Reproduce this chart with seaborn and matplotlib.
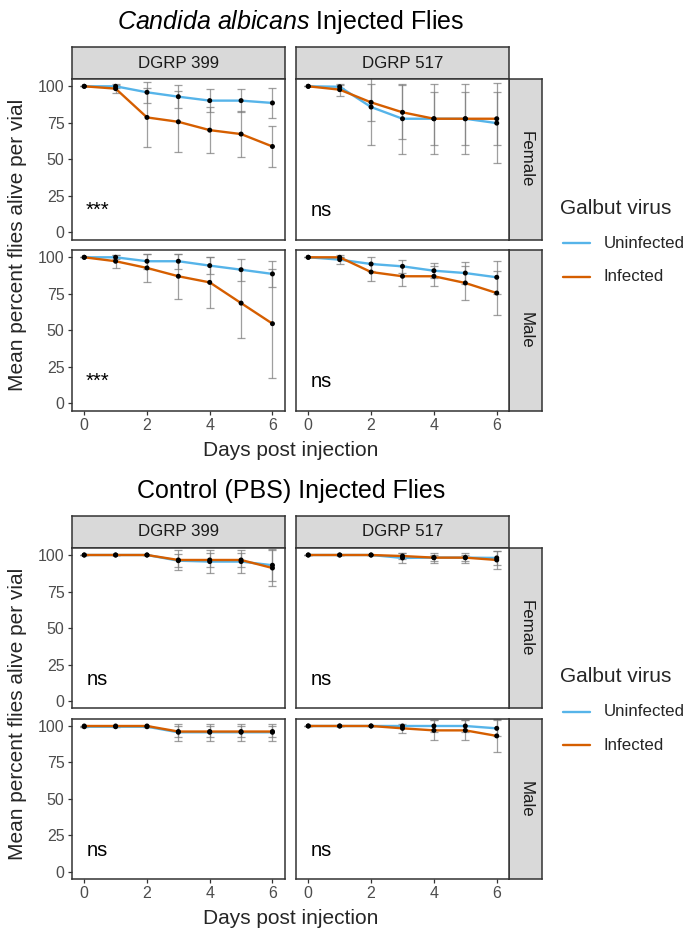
import numpy as np
import pandas as pd
import matplotlib
matplotlib.use("Agg")
import matplotlib.pyplot as plt
from matplotlib.lines import Line2D
import seaborn as sns

sns.set_theme(style="white")
plt.rcParams["font.family"] = ["Liberation Sans", "DejaVu Sans"]
plt.rcParams["mathtext.fontset"] = "custom"
plt.rcParams["mathtext.it"] = "Liberation Sans:italic"
plt.rcParams["mathtext.rm"] = "Liberation Sans"

# ---------------- data ----------------
days = [0, 1, 2, 3, 4, 5, 6]
lines_dgrp = ["DGRP 399", "DGRP 517"]
sexes = ["Female", "Male"]
virus_levels = ["Uninfected", "Infected"]

# Candida albicans injected flies: mean % alive per vial and SD
ca_399_f_uninf = [100, 100, 95.9, 92.9, 90.2, 90.2, 88.6]
ca_399_f_uninf_sd = [0, 1.0, 7.0, 8.0, 8.0, 8.0, 10.0]
ca_399_f_inf = [100, 98.4, 78.7, 75.7, 70.0, 67.3, 58.8]
ca_399_f_inf_sd = [0, 3.0, 20.0, 21.0, 15.6, 16.0, 14.0]

ca_517_f_uninf = [100, 99.7, 85.8, 77.8, 77.8, 77.8, 74.8]
ca_517_f_uninf_sd = [0, 1.0, 26.0, 24.0, 24.0, 24.0, 27.5]
ca_517_f_inf = [100, 97.7, 89.0, 82.2, 77.8, 77.8, 77.8]
ca_517_f_inf_sd = [0, 4.2, 12.6, 18.5, 18.0, 18.0, 18.0]

ca_399_m_uninf = [100, 100, 97.3, 97.3, 94.3, 91.5, 88.6]
ca_399_m_uninf_sd = [0, 1.5, 5.0, 5.0, 6.0, 7.6, 9.0]
ca_399_m_inf = [100, 97.3, 92.7, 87.0, 82.8, 68.6, 54.5]
ca_399_m_inf_sd = [0, 4.5, 9.6, 15.3, 17.6, 23.6, 37.3]

ca_517_m_uninf = [100, 98.4, 95.4, 93.8, 90.8, 89.2, 86.3]
ca_517_m_uninf_sd = [0, 3.2, 4.6, 4.6, 5.3, 7.5, 11.4]
ca_517_m_inf = [100, 100, 89.9, 87.0, 87.0, 82.4, 75.5]
ca_517_m_inf_sd = [0, 0, 6.0, 6.9, 7.0, 11.4, 15.3]

# Control (PBS) injected flies
pbs_399_f_uninf = [100, 100, 100, 96.1, 95.5, 95.5, 93.0]
pbs_399_f_uninf_sd = [0, 0, 0, 4.5, 8.0, 8.0, 11.0]
pbs_399_f_inf = [100, 100, 100, 96.6, 96.6, 96.6, 91.1]
pbs_399_f_inf_sd = [0, 0, 0, 6.6, 5.0, 5.0, 12.3]

pbs_517_f_uninf = [100, 100, 100, 98.0, 98.2, 98.2, 98.0]
pbs_517_f_uninf_sd = [0, 0, 0, 3.2, 3.4, 3.4, 5.0]
pbs_517_f_inf = [100, 100, 100, 99.3, 98.2, 98.2, 96.6]
pbs_517_f_inf_sd = [0, 0, 0, 2.0, 2.0, 2.0, 6.4]

pbs_399_m_uninf = [99.5, 99.5, 99.5, 95.7, 95.7, 95.7, 95.7]
pbs_399_m_uninf_sd = [0, 0, 0, 6.0, 6.0, 6.0, 6.0]
pbs_399_m_inf = [100, 100, 100, 96.2, 96.2, 96.2, 96.2]
pbs_399_m_inf_sd = [0, 0, 0, 4.0, 4.0, 4.0, 4.0]

pbs_517_m_uninf = [100, 100, 100, 100, 100, 100, 98.4]
pbs_517_m_uninf_sd = [0, 0, 0, 0, 4.0, 4.0, 5.4]
pbs_517_m_inf = [100, 100, 100, 98.4, 97.0, 97.0, 93.2]
pbs_517_m_inf_sd = [0, 0, 0, 3.0, 6.8, 6.8, 11.3]

# significance labels per panel (row = sex, col = DGRP line)
ca_sig = [["***", "ns"], ["***", "ns"]]
pbs_sig = [["ns", "ns"], ["ns", "ns"]]

y_ticks = [0, 25, 50, 75, 100]
x_ticks = [0, 2, 4, 6]


def long_table(panels):
    rows = []
    for (sex, dgrp), series in panels.items():
        for virus, (mean, sd) in series.items():
            for d, m, s in zip(days, mean, sd):
                rows.append(dict(sex=sex, dgrp=dgrp, virus=virus, day=d, mean=m, sd=s))
    return pd.DataFrame(rows)


ca_df = long_table({
    ("Female", "DGRP 399"): {"Uninfected": (ca_399_f_uninf, ca_399_f_uninf_sd),
                             "Infected": (ca_399_f_inf, ca_399_f_inf_sd)},
    ("Female", "DGRP 517"): {"Uninfected": (ca_517_f_uninf, ca_517_f_uninf_sd),
                             "Infected": (ca_517_f_inf, ca_517_f_inf_sd)},
    ("Male", "DGRP 399"): {"Uninfected": (ca_399_m_uninf, ca_399_m_uninf_sd),
                           "Infected": (ca_399_m_inf, ca_399_m_inf_sd)},
    ("Male", "DGRP 517"): {"Uninfected": (ca_517_m_uninf, ca_517_m_uninf_sd),
                           "Infected": (ca_517_m_inf, ca_517_m_inf_sd)},
})
pbs_df = long_table({
    ("Female", "DGRP 399"): {"Uninfected": (pbs_399_f_uninf, pbs_399_f_uninf_sd),
                             "Infected": (pbs_399_f_inf, pbs_399_f_inf_sd)},
    ("Female", "DGRP 517"): {"Uninfected": (pbs_517_f_uninf, pbs_517_f_uninf_sd),
                             "Infected": (pbs_517_f_inf, pbs_517_f_inf_sd)},
    ("Male", "DGRP 399"): {"Uninfected": (pbs_399_m_uninf, pbs_399_m_uninf_sd),
                           "Infected": (pbs_399_m_inf, pbs_399_m_inf_sd)},
    ("Male", "DGRP 517"): {"Uninfected": (pbs_517_m_uninf, pbs_517_m_uninf_sd),
                           "Infected": (pbs_517_m_inf, pbs_517_m_inf_sd)},
})

palette = {"Uninfected": "#56B4E9", "Infected": "#D55E00"}
BORDER = "#333333"
STRIP_FILL = "#D9D9D9"
TICK_TXT = "#4D4D4D"

W, H = 687, 933
fig = plt.figure(figsize=(W / 100, H / 100), dpi=100)


def frac_axes(x0, x1, y0, y1):
    """Axes from pixel box (top-left origin)."""
    return fig.add_axes([x0 / W, 1 - y1 / H, (x1 - x0) / W, (y1 - y0) / H])


def style_box(ax):
    for sp in ax.spines.values():
        sp.set_visible(True)
        sp.set_color(BORDER)
        sp.set_linewidth(1.1)


col_x = [(71.7, 285.0), (295.7, 509.3)]
side_strip_x = (509.3, 542.0)
row_y = [(79.0, 239.7), (250.0, 410.5)]
strip_y = (47.0, 79.0)


def draw_block(df, sig, title, dy):
    fig.text(291 / W, 1 - (22 + dy) / H, title, ha="center", va="center",
             fontsize=18, color="black")
    # column strips
    for c, dgrp in enumerate(lines_dgrp):
        sax = frac_axes(col_x[c][0], col_x[c][1], strip_y[0] + dy, strip_y[1] + dy)
        sax.set_facecolor(STRIP_FILL)
        sax.set_xticks([]); sax.set_yticks([])
        style_box(sax)
        sax.text(0.5, 0.5, dgrp, transform=sax.transAxes, ha="center", va="center",
                 fontsize=12.2, color="#1A1A1A")
    # row strips
    for r, sex in enumerate(sexes):
        sax = frac_axes(side_strip_x[0], side_strip_x[1], row_y[r][0] + dy, row_y[r][1] + dy)
        sax.set_facecolor(STRIP_FILL)
        sax.set_xticks([]); sax.set_yticks([])
        style_box(sax)
        sax.text(0.5, 0.5, sex, transform=sax.transAxes, ha="center", va="center",
                 rotation=-90, fontsize=12.2, color="#1A1A1A")
    # panels
    for r, sex in enumerate(sexes):
        for c, dgrp in enumerate(lines_dgrp):
            ax = frac_axes(col_x[c][0], col_x[c][1], row_y[r][0] + dy, row_y[r][1] + dy)
            sub = df[(df["sex"] == sex) & (df["dgrp"] == dgrp)]
            for virus in virus_levels:
                s = sub[sub["virus"] == virus]
                ax.errorbar(s["day"], s["mean"], yerr=s["sd"], fmt="none",
                            ecolor="#7F7F7F", alpha=0.75, elinewidth=0.9,
                            capsize=3.2, capthick=0.9, zorder=1)
            sns.lineplot(data=sub, x="day", y="mean", hue="virus",
                         hue_order=virus_levels, palette=palette, linewidth=1.7,
                         legend=False, ax=ax, zorder=2)
            sns.scatterplot(data=sub, x="day", y="mean", color="black", s=13,
                            edgecolor="none", legend=False, ax=ax, zorder=3)
            ax.text(0.42, 15, sig[r][c], ha="center", va="center", fontsize=14.5,
                    color="black")
            ax.set_xlim(-0.4, 6.4)
            ax.set_ylim(-5, 105)
            ax.set_xlabel(""); ax.set_ylabel("")
            ax.set_facecolor("white")
            style_box(ax)
            ax.set_xticks(x_ticks)
            ax.set_yticks(y_ticks)
            ax.tick_params(axis="both", length=3.2, width=0.9, color=BORDER,
                           labelcolor=TICK_TXT, labelsize=11.5, pad=2,
                           bottom=(r == 1), left=(c == 0),
                           labelbottom=(r == 1), labelleft=(c == 0))
            ax.grid(False)
    # axis titles
    fig.text(290.5 / W, 1 - (450 + dy) / H, "Days post injection", ha="center",
             va="center", fontsize=15)
    fig.text(18 / W, 1 - (245 + dy) / H, "Mean percent flies alive per vial",
             ha="center", va="center", rotation=90, fontsize=15)
    # legend
    fig.text(560.5 / W, 1 - (208.3 + dy) / H, "Galbut virus", ha="left",
             va="center", fontsize=15)
    for i, virus in enumerate(virus_levels):
        yy = 1 - (243.3 + 33.4 * i + dy) / H
        fig.add_artist(Line2D([563 / W, 590 / W], [yy, yy], color=palette[virus],
                              linewidth=1.7, transform=fig.transFigure))
        fig.text(603.3 / W, yy, virus, ha="left", va="center", fontsize=12.2)


draw_block(ca_df, ca_sig, r"$\it{Candida\ albicans}$ Injected Flies", 0.0)
draw_block(pbs_df, pbs_sig, "Control (PBS) Injected Flies", 468.7)

fig.savefig("out.png", dpi=100, facecolor="white")
